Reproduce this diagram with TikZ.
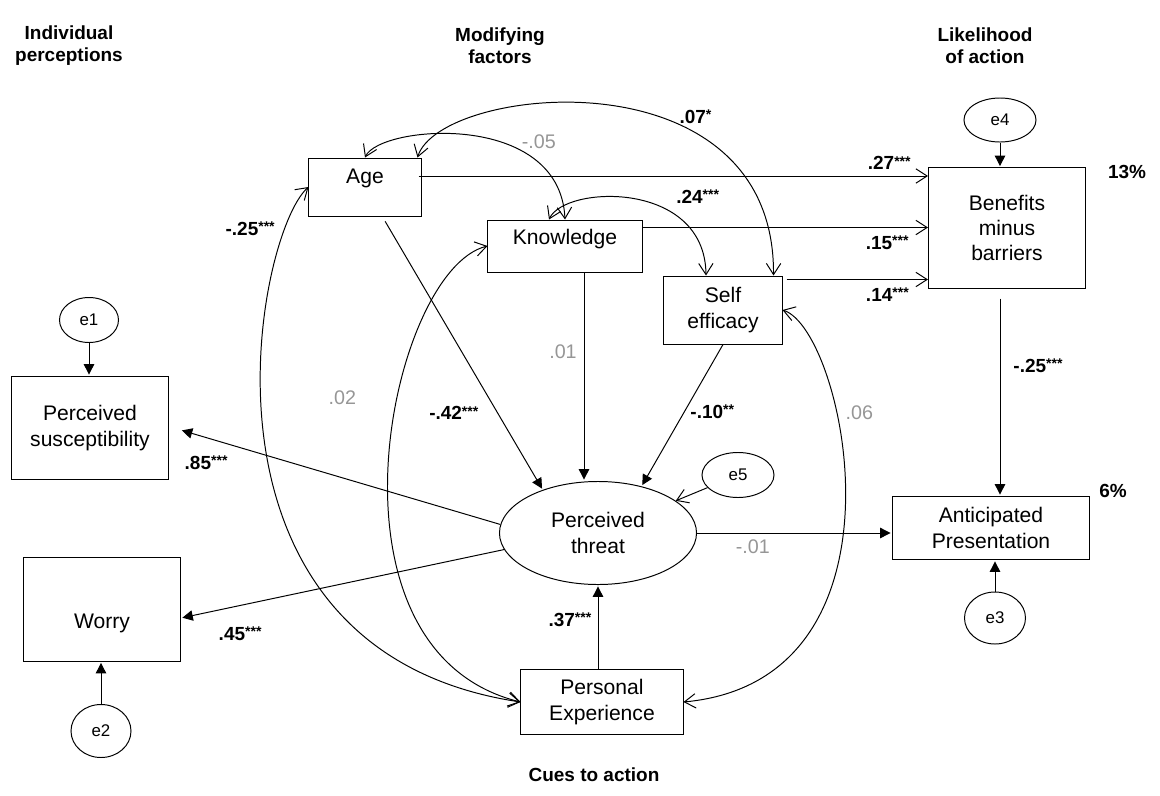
\documentclass[tikz,border=0pt]{standalone}
\usepackage{fontspec}
\setmainfont{Liberation Sans}
\usetikzlibrary{arrows.meta,shapes.geometric,calc}

\definecolor{nsgray}{RGB}{150,150,150}
\newcommand{\stars}[1]{\raisebox{2.6pt}{\fontsize{10}{10}\selectfont #1}}

\begin{document}
\begin{tikzpicture}[x=0.025cm,y=-0.025cm,line width=0.7pt,
	reg/.style={-{Triangle[length=2.6mm,width=2.6mm]},shorten >=1pt},
	opn/.style={-{Straight Barb[length=2.8mm,width=3.6mm]}},
	cov/.style={{Straight Barb[length=2.8mm,width=3.6mm]}-{Straight Barb[length=2.8mm,width=3.6mm]}},
	var/.style={draw,rectangle,align=center,inner sep=2pt,font=\fontsize{15}{18}\selectfont},
	latent/.style={draw,ellipse,align=center,inner sep=0pt,font=\fontsize{15}{18}\selectfont},
	err/.style={draw,ellipse,inner sep=0pt,font=\fontsize{12}{14}\selectfont},
	coef/.style={font=\fontsize{13.5}{15}\selectfont\bfseries,inner sep=1pt},
	ns/.style={font=\fontsize{14}{16}\selectfont,text=nsgray,inner sep=1pt},
	head/.style={align=center,font=\fontsize{13.5}{15.6}\selectfont\bfseries}]

	\useasboundingbox (0,0) rectangle (1160,796);

	% column headings
	\node[head](hindiv) at (69,46) {Individual\\perceptions};
	\node[head](hmod) at (500,46) {Modifying\\factors};
	\node[head](hlike) at (985,46) {Likelihood\\of action};
	\node[head](hcues) at (594,775) {Cues to action};

	% observed and latent variables
	\node[var,minimum width=2.8cm,minimum height=1.45cm,text depth=0.55cm](age) at (365,187) {Age};
	\node[var,minimum width=3.85cm,minimum height=1.3cm,text depth=0.46cm](knowledge) at (565,246) {Knowledge};
	\node[var,minimum width=2.95cm,minimum height=1.7cm](self) at (723,310) {Self\\efficacy};
	\node[var,minimum width=3.925cm,minimum height=3cm](benefits) at (1007,228) {Benefits\\minus\\barriers};
	\node[var,minimum width=4.925cm,minimum height=1.575cm](anticipated) at (991,528) {Anticipated\\Presentation};
	\node[var,minimum width=3.9cm,minimum height=2.575cm](susc) at (90,428) {Perceived\\susceptibility};
	\node[var,minimum width=3.925cm,minimum height=2.6cm,text height=1.1cm](worry) at (102,609) {Worry};
	\node[latent,minimum width=4.925cm,minimum height=2.575cm](threat) at (598,533) {Perceived\\threat};
	\node[var,minimum width=4.05cm,minimum height=1.625cm](experience) at (602,702) {Personal\\Experience};

	% error terms
	\node[err,minimum width=1.475cm,minimum height=1.125cm](e1) at (89,320) {e1};
	\node[err,minimum width=1.5cm,minimum height=1.325cm](e2) at (101,731) {e2};
	\node[err,minimum width=1.525cm,minimum height=1.3cm](e3) at (995,618) {e3};
	\node[err,minimum width=1.8cm,minimum height=1.1cm](e4) at (1000,120) {e4};
	\node[err,minimum width=1.8cm,minimum height=1.125cm](e5) at (738,475) {e5};

	\node[coef](r13) at (1127,172) {13\%};
	\node[coef](r6) at (1113,491) {6\%};

	\coordinate (a1) at ($(age.east)+(-3,-11)$);
	\coordinate (k1) at ($(knowledge.north east)+(0,8)$);
	\coordinate (s1) at ($(self.north east)+(4,4)$);
	\coordinate (k2) at ($(knowledge.south)+(19,0)$);
	\coordinate (b1) at ($(benefits.south)+(-7,10)$);
	\coordinate (p1) at ($(susc.east)+(12,2)$);
	\coordinate (w1) at ($(worry.east)+(0,9)$);

	% paths
	\path (a1) edge[opn] node[coef,pos=.924,shift={(0,-13)}] {.27\stars{***}} (a1 -| benefits.west);
	\path (k1) edge[opn] node[coef,pos=.857,shift={(0,15)}] {.15\stars{***}} (k1 -| benefits.west);
	\path (s1) edge[opn] node[coef,pos=.713,shift={(0,15)}] {.14\stars{***}} (s1 -| benefits.west);
	\path (b1) edge[reg] node[coef,pos=.34,shift={(38,0)}] {-.25\stars{***}} (b1 |- anticipated.north);

	\path (e4) edge[reg] (e4 |- benefits.north);
	\path (e3) edge[reg] (e3 |- anticipated.south);
	\path (e1) edge[reg] (e1 |- susc.north);
	\path (e2) edge[reg] (e2 |- worry.south);
	\path (e5) edge[opn] (threat);

	\path (age) edge[reg,shorten <=4pt] node[coef,pos=.72,shift={(-44,0)}] {-.42\stars{***}} (threat.142);
	\path (k2) edge[reg] node[ns,pos=.38,shift={(-21,0)}] {.01} (k2 |- threat.north);
	\path (self.south) edge[reg] node[coef,pos=.475,shift={(28,0)}] {-.10\stars{**}} (threat.47);
	\path (threat.south |- experience.north) edge[reg] node[coef,pos=.59,shift={(-28,0)}] {.37\stars{***}} (threat.south);
	\path (threat.east) edge[reg] node[ns,pos=.286,shift={(0,14)}] {-.01} (threat.east -| anticipated.west);
	\path (threat.175) edge[reg] node[coef,pos=.92,shift={(0,25)}] {.85\stars{***}} (p1);
	\path (threat.190) edge[reg] node[coef,pos=.817,shift={(0,28)}] {.45\stars{***}} (w1);

	% covariances
	\draw[cov] (age.west) .. controls (255,235) and (175,650) .. (experience.west) node[coef,pos=.15,shift={(-34,-2)}] {-.25\stars{***}};
	\draw[cov] (knowledge.west) .. controls (390,270) and (310,650) .. (experience.west) node[ns,pos=.4,shift={(-54,-4)}] {.02};
	\draw[cov] (self.east) .. controls (845,330) and (920,680) .. (experience.east) node[ns,pos=.3,shift={(26,13)}] {.06};
	\draw[cov] (age.north) .. controls (380,125) and (560,110) .. (knowledge.north) node[ns,pos=.75,shift={(5,-17)}] {-.05};
	\draw[cov] ($(age.north east)+(-4,0)$) .. controls (440,85) and (775,50) .. ($(self.north east)+(-9,0)$) node[coef,pos=.7,shift={(-6,-20)}] {.07\stars{*}};
	\draw[cov] ($(knowledge.north)+(-16,0)$) .. controls (565,185) and (705,180) .. ($(self.north)+(-17,0)$) node[coef,pos=.7,shift={(23,-18)}] {.24\stars{***}};

\end{tikzpicture}
\end{document}
